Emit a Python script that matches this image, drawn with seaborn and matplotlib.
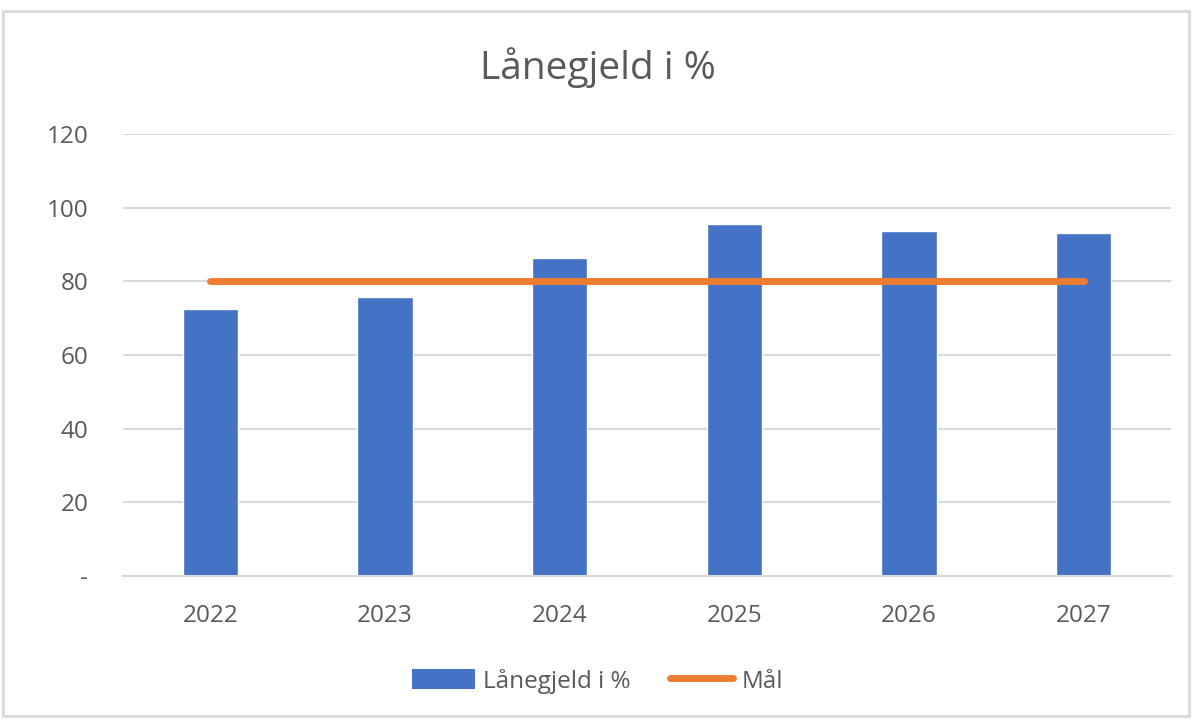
import pandas as pd
import seaborn as sns
import matplotlib.pyplot as plt
from matplotlib.patches import Rectangle, Patch
from matplotlib.lines import Line2D

# Data
years = ['2022', '2023', '2024', '2025', '2026', '2027']
laanegjeld = [72.5, 75.8, 86.2, 95.7, 93.6, 93.1]
maal = [80, 80, 80, 80, 80, 80]

BAR_COLOR = '#4472C4'
LINE_COLOR = '#ED7D31'
TEXT_COLOR = '#595959'
GRID_COLOR = '#D9D9D9'

sns.set_theme(style='white')
plt.rcParams['font.family'] = ['Open Sans', 'DejaVu Sans']

df = pd.DataFrame({'year': years, 'laanegjeld': laanegjeld, 'maal': maal})

fig = plt.figure(figsize=(11.95, 7.22), dpi=100)
ax = fig.add_axes([123 / 1195, 146 / 722, 1048 / 1195, 442 / 722])

sns.barplot(data=df, x='year', y='laanegjeld', color=BAR_COLOR, width=0.315,
            saturation=1, ax=ax, zorder=2)
sns.lineplot(data=df, x='year', y='maal', color=LINE_COLOR, linewidth=5,
             solid_capstyle='round', ax=ax, zorder=3)

ax.set_ylim(0, 120)
ax.set_xlim(-0.5, len(years) - 0.5)
ax.set_yticks([0, 20, 40, 60, 80, 100, 120])
ax.set_yticklabels(['-', '20', '40', '60', '80', '100', '120'])
ax.yaxis.grid(True, color=GRID_COLOR, linewidth=1.5, zorder=0)
ax.set_axisbelow(True)
for s in ['top', 'right', 'left']:
    ax.spines[s].set_visible(False)
ax.spines['bottom'].set_color(GRID_COLOR)
ax.spines['bottom'].set_linewidth(1.5)
ax.tick_params(axis='y', length=0, pad=25, labelsize=17.5, labelcolor=TEXT_COLOR)
ax.tick_params(axis='x', length=0, pad=20, labelsize=17.5, labelcolor=TEXT_COLOR)
ax.set_xlabel('')
ax.set_ylabel('')

fig.text(0.5, 1 - 68 / 722, 'Lånegjeld i %', ha='center', va='center',
         fontsize=28, color=TEXT_COLOR)

handles = [Patch(facecolor=BAR_COLOR, edgecolor='none'),
           Line2D([0], [0], color=LINE_COLOR, linewidth=5, solid_capstyle='round')]
fig.legend(handles, ['Lånegjeld i %', 'Mål'], loc='center',
           bbox_to_anchor=(0.5, 1 - 681 / 722), ncol=2, frameon=False,
           fontsize=17.5, labelcolor=TEXT_COLOR, handlelength=2.6,
           handleheight=0.9, columnspacing=1.6, handletextpad=0.35)

# light frame around the chart area
fig.patches.append(Rectangle((3 / 1195, 6 / 722), 1186 / 1195, 705 / 722,
                             transform=fig.transFigure, fill=False,
                             edgecolor=GRID_COLOR, linewidth=2))

fig.savefig('out.png', dpi=100, facecolor='white')
